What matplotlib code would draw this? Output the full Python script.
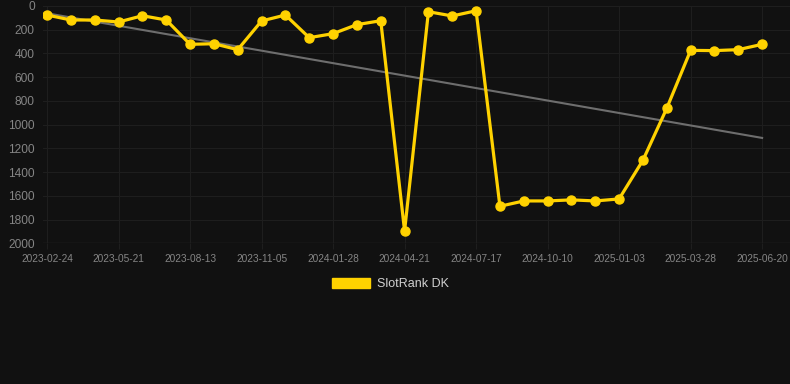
import numpy as np
import matplotlib
matplotlib.use('Agg')
import matplotlib.pyplot as plt
from matplotlib.patches import Patch

plt.rcParams['font.family'] = ['Liberation Sans', 'DejaVu Sans']

# rank values, one point every ~4 weeks (lower = better, axis inverted)
rank = [76, 118, 118, 135, 82, 118, 323, 318, 368, 126, 76, 267, 233, 157, 124,
        1896, 48, 84, 40, 1688, 1643, 1643, 1634, 1643, 1626, 1300, 862, 374, 376, 368, 323]
date_labels = ['2023-02-24', '2023-05-21', '2023-08-13', '2023-11-05', '2024-01-28',
               '2024-04-21', '2024-07-17', '2024-10-10', '2025-01-03', '2025-03-28', '2025-06-20']
y_ticks = [0, 200, 400, 600, 800, 1000, 1200, 1400, 1600, 1800, 2000]

bg = '#111111'
grid_c = '#1e1e1e'
txt_c = '#858585'
yellow = '#FFD200'

x = np.arange(len(rank))
slope, inter = np.polyfit(x, rank, 1)
trend = slope * x + inter

fig = plt.figure(figsize=(7.9, 3.84), dpi=100, facecolor=bg)
ax = fig.add_axes([43 / 790, 1 - 243.3 / 384, 747 / 790, 237.3 / 384], facecolor=bg)

ax.plot(x, trend, color='#6e6e6e', lw=1.5, zorder=2)
ax.plot(x, rank, color=yellow, lw=2.3, marker='o', ms=6.5, zorder=3)

ax.set_xlim(-0.17, 31.17)
ax.set_ylim(2000, 0)
ax.set_yticks(y_ticks)
ax.set_xticks(x[::3])
ax.set_xticklabels(date_labels)
ax.grid(True, color=grid_c, lw=0.8)
for s in ax.spines.values():
    s.set_visible(False)
ax.axhline(2000, color='#2a2a2a', lw=1, zorder=1)
ax.tick_params(axis='x', colors=grid_c, labelcolor=txt_c, labelsize=7.3, length=4, pad=4)
ax.tick_params(axis='y', colors=grid_c, labelcolor=txt_c, labelsize=8.6, length=0, pad=6)

fig.legend(handles=[Patch(facecolor=yellow, edgecolor=yellow)], labels=['SlotRank DK'],
           loc='center', bbox_to_anchor=(0.494, 0.26), frameon=False, fontsize=9,
           labelcolor='#d0d0d0', handlelength=3.1, handleheight=0.9, handletextpad=0.55)

fig.savefig('out.png', dpi=100, facecolor=bg)
